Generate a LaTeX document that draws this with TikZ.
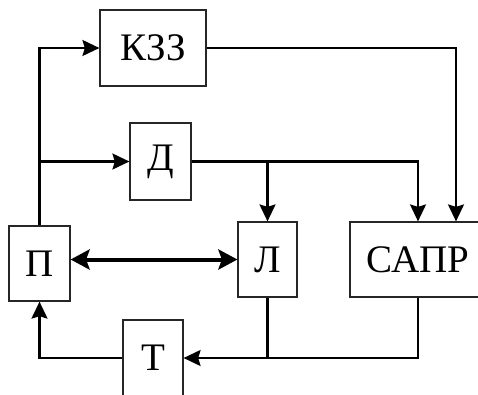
\documentclass[tikz,border=0pt]{standalone}
\usepackage{fontspec}
\setmainfont{Liberation Serif}
\newfontfamily\tnr{Liberation Serif}
\usetikzlibrary{arrows.meta}
\begin{document}
\begin{tikzpicture}[x=1pt,y=-1pt,
  blk/.style={draw=black!85,line width=1.2pt,fill=white,inner sep=0pt,font=\tnr\fontsize{39}{40}\selectfont},
  conn/.style={line width=2.2pt},
  arr/.style={conn,-{Stealth[length=17pt,width=16pt,inset=2.5pt]}},
  darr/.style={line width=4pt,{Stealth[length=19pt,width=20pt,inset=3.5pt]}-{Stealth[length=19pt,width=20pt,inset=3.5pt]}}]
\clip (0,0) rectangle (478,394);
\useasboundingbox (0,0) rectangle (478,394);
\node[blk,minimum width=106pt,minimum height=76pt] (kzz) at (153,48) {КЗЗ};
\node[blk,minimum width=61pt,minimum height=77pt] (d) at (160.5,161.5) {Д};
\node[blk,minimum width=61pt,minimum height=75pt] (p) at (39.5,263.5) {П};
\node[blk,minimum width=59pt,minimum height=75pt] (l) at (267.5,259.5) {Л};
\node[blk,minimum width=136pt,minimum height=75pt] (sapr) at (418,259.5) {САПР};
\node[blk,minimum width=60pt,minimum height=76pt] (t) at (153,358) {Т};
\coordinate (saprin) at ([xshift=38pt]sapr.north);
\draw[arr] (p.north) |- (kzz.west);
\draw[arr] (p.north |- d.west) -- (d.west);
\draw[arr] (kzz.east) -| (saprin);
\draw[arr] (d.east) -| (sapr.north);
\draw[arr] (d.east -| l.north) -- (l.north);
\draw[darr] (p.east |- l.west) -- (l.west);
\draw[arr] (sapr.south) |- (t.east);
\draw[conn] (l.south) -- (l.south |- t.east);
\draw[arr] (t.west) -| (p.south);
\end{tikzpicture}
\end{document}
